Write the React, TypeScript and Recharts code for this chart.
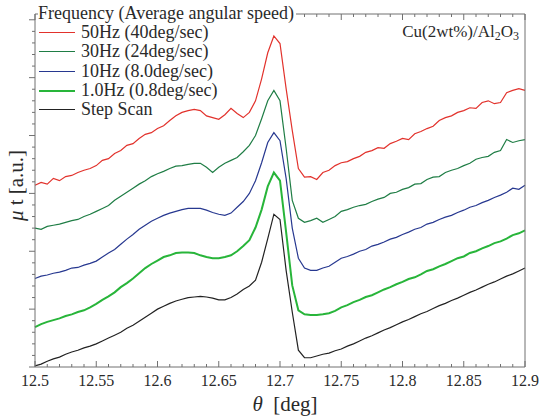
import React from 'react';
import { LineChart, Line, XAxis, YAxis, Legend } from 'recharts';

// theta grid of the scans, 0.005 deg steps
const theta = Array.from({ length: 81 }, (_, i) => +(12.5 + i * 0.005).toFixed(3));

// mu*t, offset per scan (a.u.)
const hz50 = [
  3.14, 3.19, 3.16, 3.26, 3.22, 3.29, 3.31, 3.36, 3.40, 3.43,
  3.48, 3.57, 3.60, 3.69, 3.74, 3.83, 3.86, 3.95, 4.02, 4.05,
  4.12, 4.17, 4.26, 4.34, 4.40, 4.43, 4.45, 4.43, 4.34, 4.31,
  4.28, 4.36, 4.47, 4.38, 4.31, 4.40, 4.60, 4.98, 5.43, 5.72,
  5.59, 4.81, 4.09, 3.43, 3.28, 3.29, 3.24, 3.36, 3.40, 3.48,
  3.53, 3.55, 3.60, 3.64, 3.71, 3.74, 3.79, 3.78, 3.86, 3.90,
  3.95, 3.93, 4.03, 4.07, 4.12, 4.16, 4.26, 4.31, 4.34, 4.40,
  4.43, 4.48, 4.47, 4.57, 4.60, 4.55, 4.57, 4.74, 4.78, 4.81,
  4.78,
];
const hz30 = [
  2.40, 2.38, 2.43, 2.45, 2.47, 2.50, 2.53, 2.55, 2.60, 2.64,
  2.69, 2.74, 2.79, 2.88, 2.95, 3.02, 3.09, 3.16, 3.22, 3.29,
  3.34, 3.38, 3.43, 3.47, 3.48, 3.50, 3.52, 3.52, 3.45, 3.36,
  3.45, 3.52, 3.57, 3.62, 3.72, 3.83, 4.00, 4.29, 4.60, 4.78,
  4.60, 3.78, 2.88, 2.57, 2.50, 2.53, 2.57, 2.50, 2.55, 2.60,
  2.69, 2.72, 2.76, 2.79, 2.81, 2.86, 2.90, 2.93, 3.00, 3.02,
  3.07, 3.10, 3.16, 3.17, 3.24, 3.28, 3.29, 3.36, 3.40, 3.43,
  3.48, 3.52, 3.59, 3.62, 3.64, 3.71, 3.74, 3.93, 3.88, 3.91,
  3.93,
];
const hz10 = [
  1.53, 1.57, 1.59, 1.62, 1.64, 1.67, 1.71, 1.72, 1.76, 1.79,
  1.83, 1.90, 1.97, 2.03, 2.12, 2.21, 2.29, 2.38, 2.45, 2.52,
  2.57, 2.62, 2.66, 2.69, 2.72, 2.74, 2.74, 2.74, 2.71, 2.67,
  2.64, 2.62, 2.66, 2.76, 2.86, 3.00, 3.22, 3.53, 3.88, 4.05,
  3.91, 3.26, 2.40, 1.88, 1.71, 1.67, 1.67, 1.71, 1.74, 1.81,
  1.88, 1.91, 1.95, 2.00, 2.03, 2.09, 2.12, 2.16, 2.21, 2.24,
  2.29, 2.33, 2.38, 2.41, 2.47, 2.50, 2.55, 2.59, 2.62, 2.67,
  2.71, 2.76, 2.79, 2.84, 2.88, 2.93, 2.97, 3.02, 3.09, 3.07,
  3.14,
];
const hz1 = [
  0.69, 0.74, 0.78, 0.81, 0.84, 0.88, 0.91, 0.95, 0.98, 1.03,
  1.09, 1.16, 1.22, 1.29, 1.38, 1.45, 1.53, 1.62, 1.71, 1.78,
  1.84, 1.90, 1.93, 1.97, 1.98, 1.98, 1.97, 1.93, 1.90, 1.88,
  1.88, 1.90, 1.93, 2.00, 2.09, 2.19, 2.41, 2.72, 3.12, 3.36,
  3.22, 2.33, 1.41, 0.98, 0.91, 0.90, 0.90, 0.91, 0.93, 0.97,
  1.03, 1.07, 1.12, 1.16, 1.21, 1.24, 1.29, 1.34, 1.38, 1.43,
  1.47, 1.52, 1.55, 1.60, 1.66, 1.69, 1.74, 1.78, 1.83, 1.88,
  1.91, 1.97, 2.00, 2.05, 2.09, 2.14, 2.17, 2.22, 2.28, 2.31,
  2.36,
];
const stepScan = [
  0.02, 0.05, 0.10, 0.14, 0.17, 0.22, 0.26, 0.29, 0.33, 0.36,
  0.40, 0.45, 0.50, 0.55, 0.60, 0.67, 0.72, 0.79, 0.86, 0.93,
  1.00, 1.05, 1.10, 1.14, 1.17, 1.20, 1.21, 1.22, 1.21, 1.19,
  1.16, 1.16, 1.20, 1.26, 1.34, 1.40, 1.50, 1.81, 2.22, 2.64,
  2.55, 1.67, 0.95, 0.29, 0.16, 0.16, 0.19, 0.22, 0.24, 0.28,
  0.31, 0.36, 0.40, 0.45, 0.50, 0.54, 0.59, 0.64, 0.68, 0.73,
  0.78, 0.82, 0.87, 0.92, 0.96, 1.01, 1.06, 1.10, 1.15, 1.19,
  1.24, 1.29, 1.33, 1.38, 1.43, 1.47, 1.52, 1.57, 1.61, 1.66,
  1.71,
];

const series = [
  { key: 'hz50', name: '50Hz (40deg/sec)', color: '#e2322c', width: 1.2, values: hz50 },
  { key: 'hz30', name: '30Hz (24deg/sec)', color: '#1f7d45', width: 1.2, values: hz30 },
  { key: 'hz10', name: '10Hz (8.0deg/sec)', color: '#273890', width: 1.2, values: hz10 },
  { key: 'hz1', name: '1.0Hz (0.8deg/sec)', color: '#28b53a', width: 2, values: hz1 },
  { key: 'step', name: 'Step Scan', color: '#222222', width: 1.2, values: stepScan },
];

const xMajor = [12.5, 12.55, 12.6, 12.65, 12.7, 12.75, 12.8, 12.85, 12.9];
const xTicks = Array.from({ length: 41 }, (_, i) => +(12.5 + i * 0.01).toFixed(2));
const yTicks = Array.from({ length: 31 }, (_, i) => +(i * 0.2).toFixed(1));

const data = theta.map((t, i) => {
  const row: any = { theta: t };
  series.forEach(s => { row[s.key] = s.values[i]; });
  return row;
});

const FONT = '"Liberation Serif", "Times New Roman", serif';
const AXIS = '#707070';
const TEXT = '#2a2a2a';

const isXMajor = (v: number) => xMajor.some(m => Math.abs(m - v) < 1e-6);
const isYMajor = (v: number) => Math.abs(v - Math.round(v)) < 1e-6;

// ticks point inward on bottom/top/right, outward on the left like the original
const BottomTick = (props: any) => {
  const { x, y, payload } = props;
  const major = isXMajor(payload.value);
  return (
    <g>
      <line x1={x} x2={x} y1={y} y2={y - (major ? 6 : 3)} stroke={AXIS} />
      {major && (
        <text x={x} y={y + 19} textAnchor="middle" fill={TEXT} fontFamily={FONT} fontSize={16}>
          {String(payload.value)}
        </text>
      )}
    </g>
  );
};

const TopTick = (props: any) => {
  const { x, y, payload } = props;
  const major = isXMajor(payload.value);
  return <line x1={x} x2={x} y1={y} y2={y + (major ? 6 : 3)} stroke={AXIS} />;
};

const LeftTick = (props: any) => {
  const { x, y, payload } = props;
  const major = isYMajor(payload.value);
  return <line x1={x - (major ? 6 : 3)} x2={x} y1={y} y2={y} stroke={AXIS} />;
};

const RightTick = (props: any) => {
  const { x, y, payload } = props;
  const major = isYMajor(payload.value);
  return <line x1={x - (major ? 6 : 3)} x2={x} y1={y} y2={y} stroke={AXIS} />;
};

const XTitle = (props: any) => {
  const vb = props.viewBox || { x: 35, y: 367, width: 490, height: 51 };
  return (
    <text x={vb.x + vb.width / 2 + 5} y={vb.y + 44} textAnchor="middle" fill={TEXT} fontFamily={FONT} fontSize={21}>
      <tspan fontStyle="italic">θ</tspan>
      <tspan>{'\u00a0\u00a0[deg]'}</tspan>
    </text>
  );
};

const YTitle = (props: any) => {
  const vb = props.viewBox || { x: 0, y: 14, width: 35, height: 353 };
  const cx = vb.x + 16;
  const cy = vb.y + vb.height / 2 - 5;
  return (
    <text x={cx} y={cy} transform={`rotate(-90 ${cx} ${cy})`} textAnchor="middle" dominantBaseline="central" fill={TEXT} fontFamily={FONT} fontSize={21}>
      <tspan fontStyle="italic">μ</tspan>
      <tspan>{' t [a.u.]'}</tspan>
    </text>
  );
};

const LegendBox = () => (
  <div style={{ position: 'relative', width: 539, height: 130, fontFamily: FONT, color: TEXT, fontSize: 18, lineHeight: '19.3px', textAlign: 'left' }}>
    <div style={{ position: 'absolute', left: 38, top: 4, background: '#fff', paddingRight: 2, whiteSpace: 'nowrap' }}>
      Frequency (Average angular speed)
    </div>
    {series.map((s, i) => (
      <div key={s.key} style={{ position: 'absolute', left: 39, top: 23 + i * 19.3, display: 'flex', alignItems: 'center', whiteSpace: 'nowrap' }}>
        <span style={{ display: 'inline-block', width: 36, height: 0, borderTop: `${s.width === 2 ? 2 : 1.5}px solid ${s.color}`, marginRight: 6 }} />
        <span>{s.name}</span>
      </div>
    ))}
    <div style={{ position: 'absolute', right: 20, top: 22, whiteSpace: 'nowrap', fontSize: 17 }}>
      Cu(2wt%)/Al<sub style={{ fontSize: 12, verticalAlign: '-3px' }}>2</sub>O<sub style={{ fontSize: 12, verticalAlign: '-3px' }}>3</sub>
    </div>
  </div>
);

export default function App() {
  return (
    <div style={{ position: 'absolute', left: 0, top: 0, background: '#fff' }}>
      <LineChart width={539} height={418} data={data} margin={{ top: 0, right: 0, bottom: 0, left: 0 }}>
        <XAxis
          xAxisId="bottom"
          dataKey="theta"
          type="number"
          domain={[12.5, 12.9]}
          ticks={xTicks}
          interval={0}
          height={51}
          tickSize={0}
          tickMargin={0}
          tickLine={false}
          stroke={AXIS}
          tick={<BottomTick />}
          label={<XTitle />}
        />
        <XAxis
          xAxisId="top"
          orientation="top"
          dataKey="theta"
          type="number"
          domain={[12.5, 12.9]}
          ticks={xTicks}
          interval={0}
          height={14}
          tickSize={0}
          tickMargin={0}
          tickLine={false}
          stroke={AXIS}
          tick={<TopTick />}
        />
        <YAxis
          yAxisId="left"
          type="number"
          domain={[0, 6.1]}
          ticks={yTicks}
          interval={0}
          width={35}
          tickSize={0}
          tickMargin={0}
          tickLine={false}
          stroke={AXIS}
          tick={<LeftTick />}
          label={<YTitle />}
        />
        <YAxis
          yAxisId="right"
          orientation="right"
          type="number"
          domain={[0, 6.1]}
          ticks={yTicks}
          interval={0}
          width={14}
          tickSize={0}
          tickMargin={0}
          tickLine={false}
          stroke={AXIS}
          tick={<RightTick />}
        />
        {series.map(s => (
          <Line
            key={s.key}
            xAxisId="bottom"
            yAxisId="left"
            dataKey={s.key}
            name={s.name}
            type="linear"
            stroke={s.color}
            strokeWidth={s.width}
            dot={false}
            activeDot={false}
            isAnimationActive={false}
          />
        ))}
        <Legend
          layout="horizontal"
          verticalAlign="middle"
          align="center"
          content={<LegendBox />}
          wrapperStyle={{ left: 0, top: 0, width: 539 }}
        />
      </LineChart>
    </div>
  );
}
